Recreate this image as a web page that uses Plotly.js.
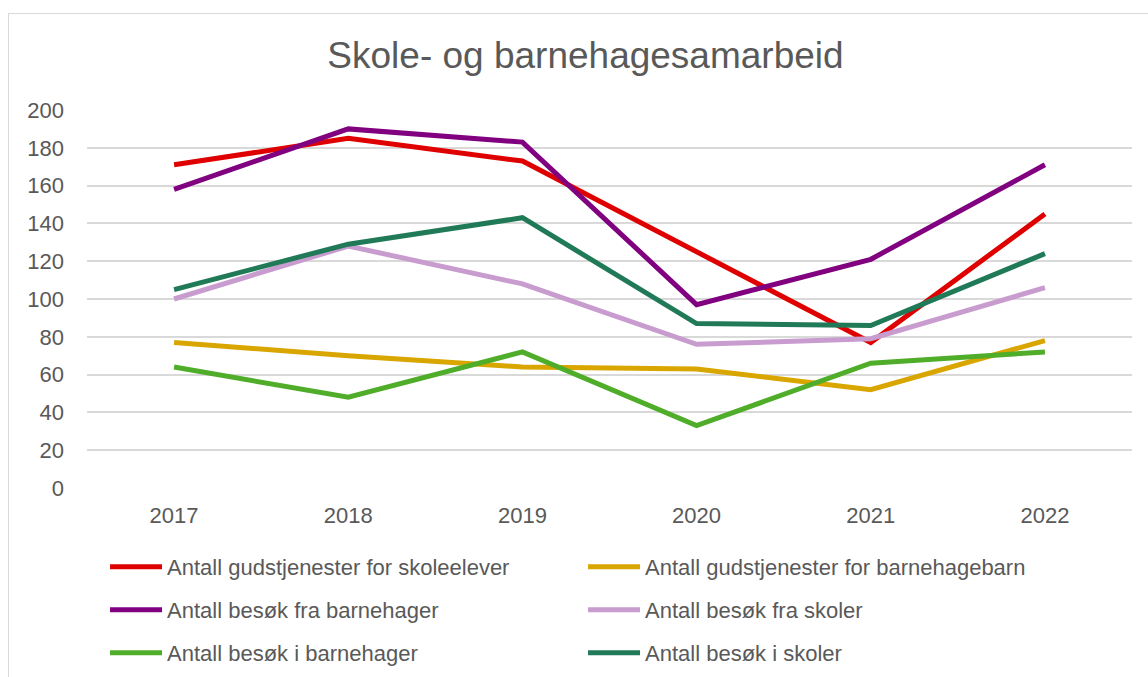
<!DOCTYPE html>
<html>
<head>
<meta charset="utf-8">
<script src="https://cdn.plot.ly/plotly-3.0.1.min.js"></script>
<style>
  html, body { margin: 0; padding: 0; background: #fff; }
  #wrap { position: relative; width: 1148px; height: 677px; overflow: hidden; }
  #chart { position: absolute; left: 0; top: 0; width: 1148px; height: 677px; }
  #frame { position: absolute; left: 8px; top: 13px; width: 1160px; height: 700px;
           border: 1px solid #d9d9d9; pointer-events: none; box-sizing: border-box; }
</style>
</head>
<body>
<div id="wrap">
  <div id="chart"></div>
  <div id="frame"></div>
</div>
<script>
const years = ["2017", "2018", "2019", "2020", "2021", "2022"];

const gudstjenesterSkoleelever   = [171, 185, 173, 125, 77, 145];
const gudstjenesterBarnehagebarn = [77, 70, 64, 63, 52, 78];
const besokFraBarnehager         = [158, 190, 183, 97, 121, 171];
const besokFraSkoler             = [100, 128, 108, 76, 79, 106];
const besokIBarnehager           = [64, 48, 72, 33, 66, 72];
const besokISkoler               = [105, 129, 143, 87, 86, 124];

const seriesNames = [
  "Antall gudstjenester for skoleelever",
  "Antall gudstjenester for barnehagebarn",
  "Antall besøk fra barnehager",
  "Antall besøk fra skoler",
  "Antall besøk i barnehager",
  "Antall besøk i skoler"
];
const seriesValues = [
  gudstjenesterSkoleelever,
  gudstjenesterBarnehagebarn,
  besokFraBarnehager,
  besokFraSkoler,
  besokIBarnehager,
  besokISkoler
];
const seriesColors = ["#df0000", "#d9a600", "#800080", "#c99ccf", "#4fad2a", "#207a57"];
// legend row for each series (two entries per row)
const legendIds = ["legend", "legend", "legend2", "legend2", "legend3", "legend3"];

const traces = seriesNames.map((name, i) => ({
  type: "scatter",
  mode: "lines",
  name: name,
  x: years,
  y: seriesValues[i],
  legend: legendIds[i],
  line: { color: seriesColors[i], width: 5 }
}));

const textColor = "#595959";
const font = "Liberation Sans, Arial, sans-serif";

function legendRow(yPos) {
  return {
    orientation: "h",
    xref: "container", yref: "container",
    x: 0.0915, xanchor: "left",
    y: yPos, yanchor: "middle",
    entrywidth: 411,
    entrywidthmode: "pixels",
    itemwidth: 52,
    font: { family: font, size: 22, color: textColor },
    traceorder: "normal",
    bgcolor: "rgba(0,0,0,0)"
  };
}

const layout = {
  width: 1148,
  height: 677,
  paper_bgcolor: "#ffffff",
  plot_bgcolor: "#ffffff",
  margin: { l: 87, r: 16, t: 110, b: 189 },
  font: { family: font, color: textColor, size: 22 },
  title: {
    text: "Skole- og barnehagesamarbeid",
    font: { family: font, size: 37, color: textColor },
    x: 0.51, xanchor: "center",
    y: 0.918, yanchor: "middle"
  },
  xaxis: {
    type: "category",
    range: [-0.5, 5.5],
    showgrid: false,
    zeroline: false,
    showline: false,
    ticks: "",
    tickfont: { family: font, size: 22, color: textColor },
    ticklabelstandoff: 12
  },
  yaxis: {
    range: [0, 200],
    dtick: 20,
    showgrid: true,
    gridcolor: "#d9d9d9",
    gridwidth: 2,
    zeroline: false,
    showline: false,
    ticks: "",
    tickfont: { family: font, size: 22, color: textColor },
    ticklabelstandoff: 22
  },
  showlegend: true,
  legend: legendRow(0.1625),
  legend2: legendRow(0.099),
  legend3: legendRow(0.0355)
};

Plotly.newPlot("chart", traces, layout, { displayModeBar: false, staticPlot: true });
</script>
</body>
</html>
